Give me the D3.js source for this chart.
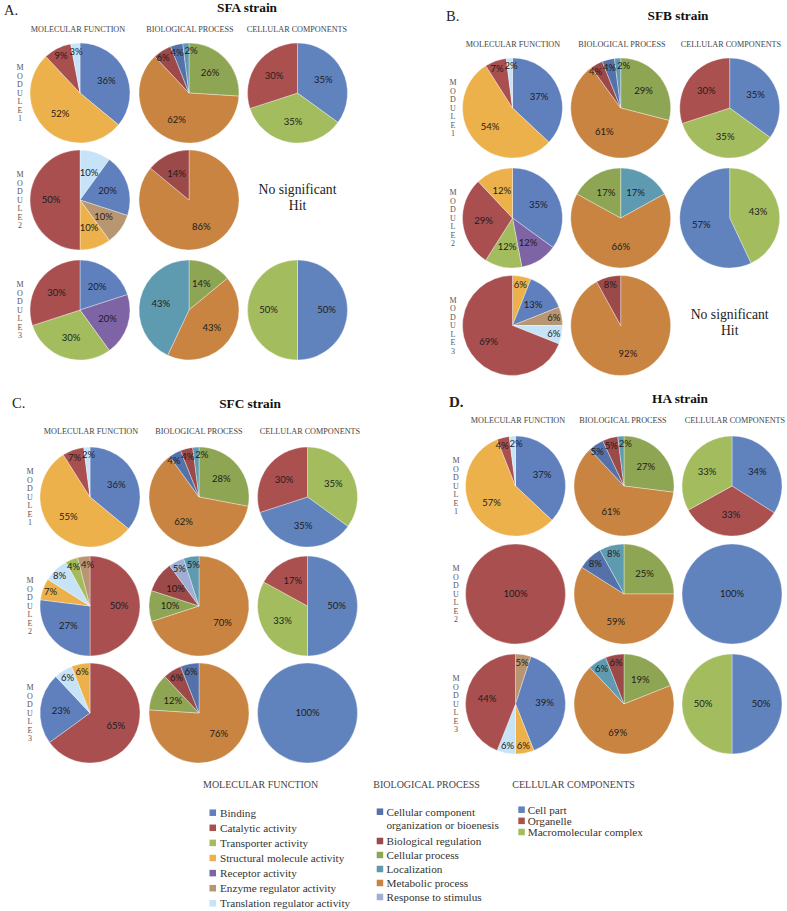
<!DOCTYPE html>
<html><head><meta charset="utf-8">
<script src="https://cdn.jsdelivr.net/npm/d3@7"></script>
<style>body{margin:0;background:#fff}svg{display:block}</style>
</head><body><svg id="c" width="787" height="911"></svg>
<script>
// ================= DATA =================
const strains = ["SFA strain", "SFB strain", "SFC strain", "HA strain"];
const panelLetters = ["A.", "B.", "C.", "D."];
const ontologies = ["MOLECULAR FUNCTION", "BIOLOGICAL PROCESS", "CELLULAR COMPONENTS"];
const modules = ["1", "2", "3"];
const noHitText = ["No significant", "Hit"];

// category keys and their legend names
const mfKeys = ["Binding", "Catalytic", "Transporter", "Structural", "Receptor", "Enzyme", "Translation"];
const mfCategories = ["Binding", "Catalytic activity", "Transporter activity", "Structural molecule activity", "Receptor activity", "Enzyme regulator activity", "Translation regulator activity"];
const bpKeys = ["Organization", "Regulation", "Cellular", "Localization", "Metabolic", "Response"];
const bpCategories = [["Cellular component", "organization or bioenesis"], ["Biological regulation"], ["Cellular process"], ["Localization"], ["Metabolic process"], ["Response to stimulus"]];
const ccKeys = ["Cell part", "Organelle", "Macromolecular"];
const ccCategories = ["Cell part", "Organelle", "Macromolecular complex"];

// Each pie: slices clockwise from 12 o'clock, [category key, percent]; null = no significant hit
const sfaMF = [
  [["Binding", 36], ["Structural", 52], ["Catalytic", 9], ["Translation", 3]],
  [["Translation", 10], ["Binding", 20], ["Enzyme", 10], ["Structural", 10], ["Catalytic", 50]],
  [["Binding", 20], ["Receptor", 20], ["Transporter", 30], ["Catalytic", 30]]
];
const sfaBP = [
  [["Cellular", 26], ["Metabolic", 62], ["Regulation", 6], ["Organization", 4], ["Localization", 2]],
  [["Metabolic", 86], ["Regulation", 14]],
  [["Cellular", 14], ["Metabolic", 43], ["Localization", 43]]
];
const sfaCC = [
  [["Cell part", 35], ["Macromolecular", 35], ["Organelle", 30]],
  null,
  [["Cell part", 50], ["Macromolecular", 50]]
];
const sfbMF = [
  [["Binding", 37], ["Structural", 54], ["Catalytic", 7], ["Translation", 2]],
  [["Binding", 35], ["Receptor", 12], ["Transporter", 12], ["Catalytic", 29], ["Structural", 12]],
  [["Structural", 6], ["Binding", 13], ["Enzyme", 6], ["Translation", 6], ["Catalytic", 69]]
];
const sfbBP = [
  [["Cellular", 29], ["Metabolic", 61], ["Regulation", 4], ["Organization", 4], ["Localization", 2]],
  [["Localization", 17], ["Metabolic", 66], ["Cellular", 17]],
  [["Metabolic", 92], ["Regulation", 8]]
];
const sfbCC = [
  [["Cell part", 35], ["Macromolecular", 35], ["Organelle", 30]],
  [["Macromolecular", 43], ["Cell part", 57]],
  null
];
const sfcMF = [
  [["Binding", 36], ["Structural", 55], ["Catalytic", 7], ["Translation", 2]],
  [["Catalytic", 50], ["Binding", 27], ["Structural", 7], ["Translation", 8], ["Transporter", 4], ["Enzyme", 4]],
  [["Catalytic", 65], ["Binding", 23], ["Translation", 6], ["Structural", 6]]
];
const sfcBP = [
  [["Cellular", 28], ["Metabolic", 62], ["Organization", 4], ["Regulation", 4], ["Localization", 2]],
  [["Metabolic", 70], ["Cellular", 10], ["Regulation", 10], ["Response", 5], ["Localization", 5]],
  [["Metabolic", 76], ["Cellular", 12], ["Regulation", 6], ["Organization", 6]]
];
const sfcCC = [
  [["Macromolecular", 35], ["Cell part", 35], ["Organelle", 30]],
  [["Cell part", 50], ["Macromolecular", 33], ["Organelle", 17]],
  [["Cell part", 100]]
];
const haMF = [
  [["Binding", 37], ["Structural", 57], ["Catalytic", 4], ["Translation", 2]],
  [["Catalytic", 100]],
  [["Enzyme", 5], ["Binding", 39], ["Structural", 6], ["Translation", 6], ["Catalytic", 44]]
];
const haBP = [
  [["Cellular", 27], ["Metabolic", 61], ["Organization", 5], ["Regulation", 5], ["Localization", 2]],
  [["Cellular", 25], ["Metabolic", 59], ["Organization", 8], ["Localization", 8]],
  [["Cellular", 19], ["Metabolic", 69], ["Localization", 6], ["Regulation", 6]]
];
const haCC = [
  [["Cell part", 34], ["Organelle", 33], ["Macromolecular", 33]],
  [["Cell part", 100]],
  [["Cell part", 50], ["Macromolecular", 50]]
];

// ================= STYLE / LAYOUT =================
const mfColors = ["#5f80bc", "#a94f4f", "#a3bc5e", "#ecb14a", "#7e64a4", "#b89672", "#c7e3f8"];
const bpColors = ["#5471aa", "#9c4949", "#8ea553", "#5f9bb0", "#c88440", "#9eaed4"];
const ccColors = ["#6082bd", "#aa5150", "#a3bc5e"];

const colorMF = d3.scaleOrdinal().domain(mfKeys).range(mfColors);
const colorBP = d3.scaleOrdinal().domain(bpKeys).range(bpColors);
const colorCC = d3.scaleOrdinal().domain(ccKeys).range(ccColors);
const colorScales = [colorMF, colorBP, colorCC];

const panels = [
  {data: [sfaMF, sfaBP, sfaCC], letterX: 4, letterY: 15, bold: false, titleX: 247, titleY: 12, headerY: 32,
   headerX: [78, 190, 297], colX: [80, 189, 297.5], rowY: [93, 200, 310], moduleX: 20},
  {data: [sfbMF, sfbBP, sfbCC], letterX: 446, letterY: 20.5, bold: false, titleX: 678, titleY: 20, headerY: 46.5,
   headerX: [513, 622, 731], colX: [512.5, 620.7, 729.7], rowY: [108, 218, 325.5], moduleX: 453},
  {data: [sfcMF, sfcBP, sfcCC], letterX: 12, letterY: 408, bold: false, titleX: 250, titleY: 407.7, headerY: 434.3,
   headerX: [91, 199, 310], colX: [90, 199, 307.5], rowY: [497, 606, 713], moduleX: 30},
  {data: [haMF, haBP, haCC], letterX: 449, letterY: 406.7, bold: true, titleX: 680, titleY: 402.7, headerY: 423.3,
   headerX: [518, 623, 735], colX: [515.5, 624, 732], rowY: [486, 594, 704], moduleX: 456}
];

const R = 50;
const serif = "'Liberation Serif','Times New Roman',serif";
const sans = "Lato,'Open Sans',sans-serif";

const svg = d3.select("#c");
svg.append("rect").attr("width", 787).attr("height", 911).attr("fill", "#fff");

const pie = d3.pie().sort(null).value(d => d[1]);
const arc = d3.arc().innerRadius(0).outerRadius(R);

function labelPositions(arcs) {
  const labs = arcs.map(a => {
    const m = (a.startAngle + a.endAngle) / 2;
    const v = a.data[1];
    const f = v >= 100 ? 0 : (v < 10 ? 0.84 : 0.58);
    return {x: Math.sin(m) * R * f, y: -Math.cos(m) * R * f, w: String(v).length * 5.6 + 7.8, text: v + "%"};
  });
  const H = 10;
  for (let it = 0; it < 60; it++) {
    for (let i = 0; i < labs.length; i++) for (let j = i + 1; j < labs.length; j++) {
      const a = labs[i], b = labs[j];
      const dx = b.x - a.x, dy = b.y - a.y;
      const ox = (a.w + b.w) / 2 + 0.6 - Math.abs(dx), oy = H - Math.abs(dy);
      if (ox > 0 && oy > 0) {
        if (oy < ox * 0.6) {
          const s = dy >= 0 ? 1 : -1;
          a.y -= s * oy / 2; b.y += s * oy / 2;
        } else {
          const s = dx >= 0 ? 1 : -1;
          a.x -= s * ox / 2; b.x += s * ox / 2;
        }
      }
    }
  }
  return labs;
}

panels.forEach((p, pi) => {
  const g = svg.append("g");
  const xCol = d3.scaleOrdinal().domain(ontologies).range(p.colX);
  const xHead = d3.scaleOrdinal().domain(ontologies).range(p.headerX);
  const yRow = d3.scaleOrdinal().domain(modules).range(p.rowY);

  g.append("text").attr("x", p.letterX).attr("y", p.letterY).text(panelLetters[pi])
    .attr("font-family", serif).attr("font-size", p.bold ? 15 : 14.5).attr("font-weight", p.bold ? "bold" : "normal").attr("fill", "#222");
  g.append("text").attr("x", p.titleX).attr("y", p.titleY).attr("text-anchor", "middle").text(strains[pi])
    .attr("font-family", serif).attr("font-size", 13.3).attr("font-weight", "bold").attr("fill", "#111");

  ontologies.forEach(o => {
    g.append("text").attr("x", xHead(o)).attr("y", p.headerY).attr("text-anchor", "middle").text(o)
      .attr("font-family", serif).attr("font-size", 8.2).attr("fill", "#444");
  });

  modules.forEach((m, mi) => {
    const letters = ("MODULE" + m).split("");
    const yl = d3.scalePoint().domain(d3.range(letters.length)).range([yRow(m) - 25.5, yRow(m) + 25.5]);
    g.append("g").selectAll("text").data(letters).join("text")
      .attr("x", p.moduleX).attr("y", (d, i) => yl(i)).attr("dy", "0.35em").attr("text-anchor", "middle")
      .text(d => d).attr("font-family", serif).attr("font-size", 8).attr("fill", "#555");

    ontologies.forEach((o, oi) => {
      const slices = p.data[oi][mi];
      const cx = xCol(o), cy = yRow(m);
      if (!slices) {
        noHitText.forEach((t, ti) => {
          g.append("text").attr("x", cx).attr("y", cy + (ti === 0 ? -6.5 : 9.5)).attr("text-anchor", "middle").text(t)
            .attr("font-family", serif).attr("font-size", 13.7).attr("fill", "#222");
        });
        return;
      }
      const pg = g.append("g").attr("transform", `translate(${cx},${cy})`);
      const arcs = pie(slices);
      pg.selectAll("path").data(arcs).join("path")
        .attr("d", arc).attr("fill", d => colorScales[oi](d.data[0]))
        .attr("stroke", "#fff").attr("stroke-width", 0.5).attr("stroke-opacity", 0.7);
      const labs = labelPositions(arcs);
      pg.selectAll("text").data(labs).join("text")
        .attr("x", d => d.x).attr("y", d => d.y).attr("dy", "0.35em").attr("text-anchor", "middle")
        .text(d => d.text).attr("font-family", sans).attr("font-size", 9.5).attr("fill", "#1c1c1c");
    });
  });
});

// ================= LEGEND =================
const lg = svg.append("g");
const legendHeaderY = 788;
[["MOLECULAR FUNCTION", 203], ["BIOLOGICAL PROCESS", 373.3], ["CELLULAR COMPONENTS", 512.3]].forEach(([t, x]) => {
  lg.append("text").attr("x", x).attr("y", legendHeaderY).text(t)
    .attr("font-family", serif).attr("font-size", 10).attr("fill", "#444");
});
const SQ = 6.5;
function legendItem(x, y, color, lines, tx) {
  lg.append("rect").attr("x", x).attr("y", y - SQ / 2).attr("width", SQ).attr("height", SQ).attr("fill", color);
  lines.forEach((l, i) => {
    lg.append("text").attr("x", tx).attr("y", y + i * 13).attr("dy", "0.35em").text(l)
      .attr("font-family", serif).attr("font-size", 11.2).attr("fill", "#333");
  });
}
const yMF = d3.scalePoint().domain(mfKeys).range([812.7, 903.3]);
mfKeys.forEach((k, i) => legendItem(209.5, yMF(k), colorMF(k), [mfCategories[i]], 220));
const yBP = d3.scalePoint().domain(bpKeys.slice(1)).range([841, 897]);
bpKeys.forEach((k, i) => legendItem(376.7, i === 0 ? 811.7 : yBP(k), colorBP(k), bpCategories[i], 386.5));
const yCC = d3.scalePoint().domain(ccKeys).range([809.7, 832]);
ccKeys.forEach((k, i) => legendItem(518.3, yCC(k), colorCC(k), [ccCategories[i]], 527.7));
</script>
</body></html>
